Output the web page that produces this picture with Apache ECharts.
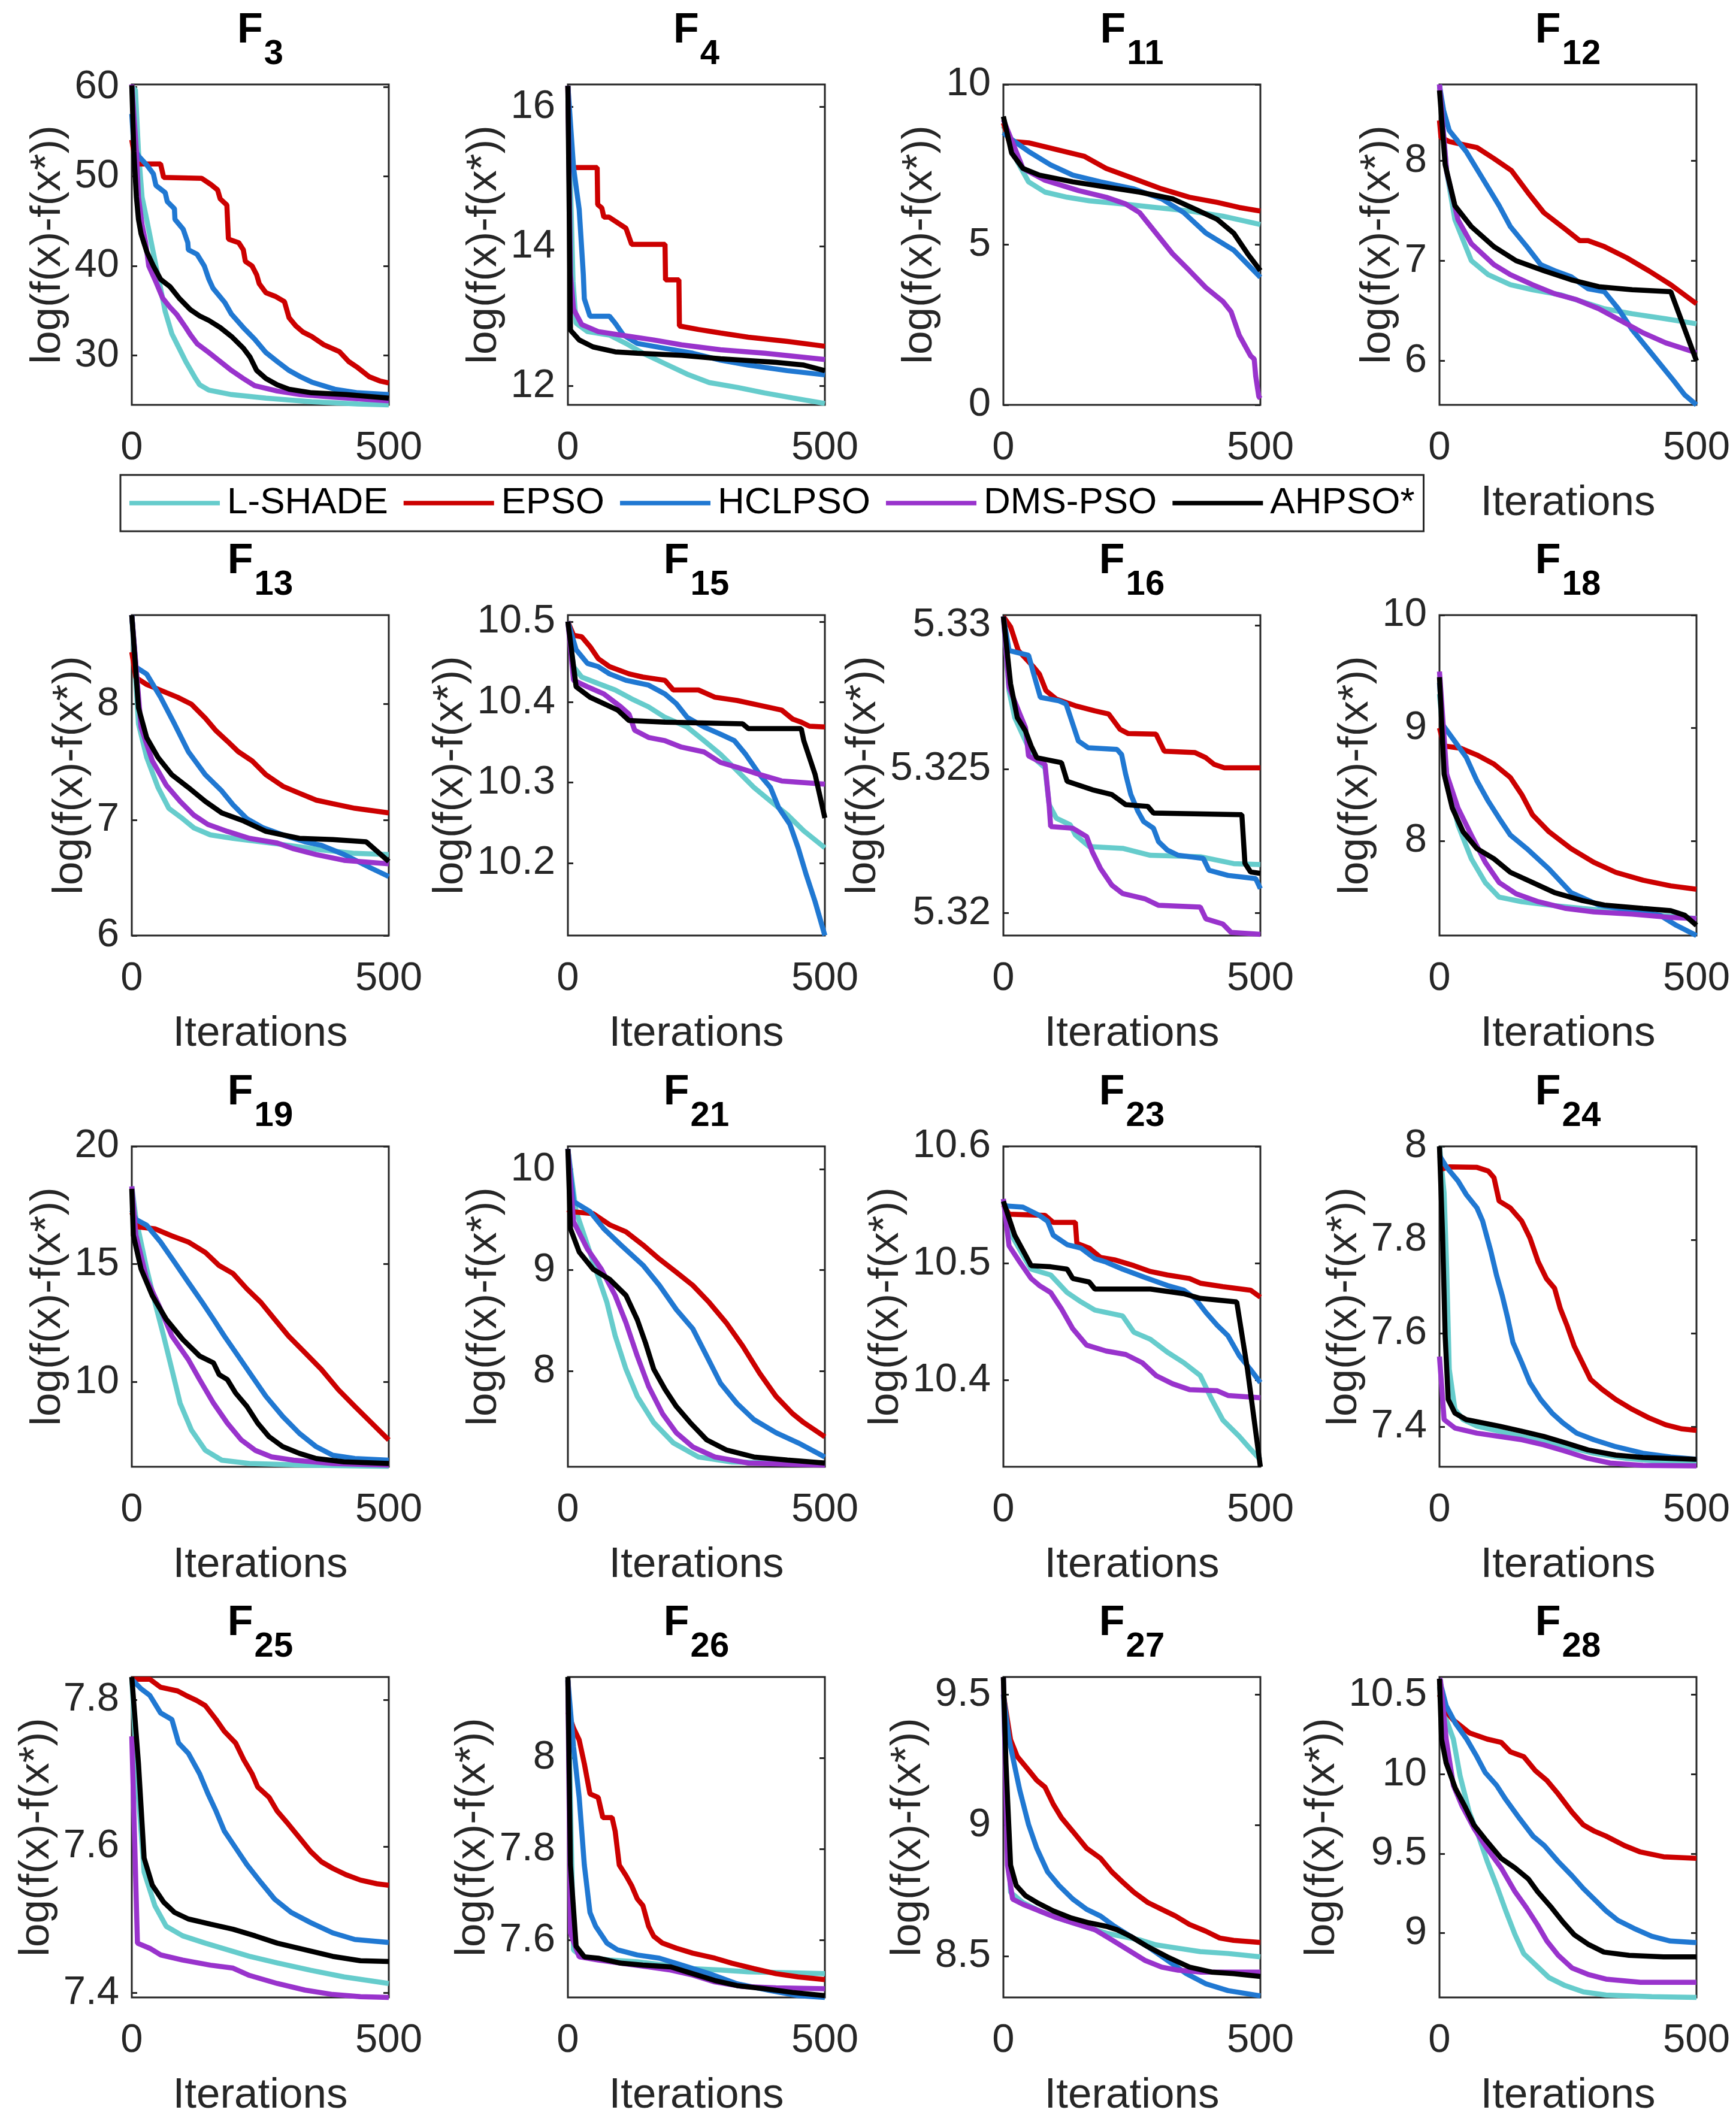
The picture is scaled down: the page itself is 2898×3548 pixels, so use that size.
<!DOCTYPE html>
<html>
<head>
<meta charset="utf-8">
<script src="https://cdn.jsdelivr.net/npm/echarts@6.0.0/dist/echarts.min.js"></script>
<style>html,body{margin:0;padding:0;background:#fff;}#c{width:2898px;height:3548px;}</style>
</head>
<body>
<div id="c"></div>
<script>
const NAMES = ['L-SHADE', 'EPSO', 'HCLPSO', 'DMS-PSO', 'AHPSO*'];
const COLORS = ['#66CCCC', '#CC0000', '#2078D2', '#9933CC', '#000000'];
const FUNCS = ['3', '4', '11', '12', '13', '15', '16', '18', '19', '21', '23', '24', '25', '26', '27', '28'];
const Y_MIN = [24.45, 11.73, 0, 5.56, 6, 10.11, 5.31921, 7.16, 6.4, 7.053, 10.326, 7.314, 7.394, 7.475, 8.342, 8.595];
const Y_MAX = [60.3, 16.32, 10, 8.76, 8.77, 10.508, 5.33035, 10, 20, 10.226, 10.6, 8.0, 7.831, 8.177, 9.567, 10.611];
const Y_TICKS = [
  [30, 40, 50, 60], [12, 14, 16], [0, 5, 10], [6, 7, 8],
  [6, 7, 8], [10.2, 10.3, 10.4, 10.5], [5.32, 5.325, 5.33], [8, 9, 10],
  [10, 15, 20], [8, 9, 10], [10.4, 10.5, 10.6], [7.4, 7.6, 7.8, 8],
  [7.4, 7.6, 7.8], [7.6, 7.8, 8], [8.5, 9, 9.5], [9, 9.5, 10, 10.5]
];
const X_TICKS = [0, 500];

// each function: [L-SHADE, EPSO, HCLPSO, DMS-PSO, AHPSO*], points are [iteration, value]
const F3 = [
  [[0,60],[7,59.7],[13,52.8],[20,47.7],[29,45.2],[38,42.6],[47,40],[56,37.5],[65,34.9],[78,32.4],[92,30.8],[105,29.3],[123,27.5],[132,26.7],[150,26.1],[194,25.6],[261,25.2],[350,24.8],[440,24.55],[500,24.45]],
  [[0,54.1],[8,51.4],[56,51.4],[62,49.9],[136,49.8],[154,49.1],[167,48.5],[172,47.5],[185,46.8],[188,43],[208,42.6],[217,41.8],[221,40.5],[234,40],[243,39],[248,38],[261,37],[279,36.6],[297,36],[306,34.2],[319,33.3],[333,32.6],[350,32.1],[373,31.2],[404,30.4],[422,29.3],[440,28.6],[462,27.6],[484,27.1],[500,26.9]],
  [[0,57],[4,53.3],[13,52.3],[29,51.3],[42,50.3],[47,49],[65,48.2],[69,47.2],[83,46.4],[84,45.2],[100,44.1],[109,42.6],[110,41.8],[127,41.3],[141,40],[150,38.5],[158,37.5],[181,35.9],[194,34.6],[217,33.1],[239,31.8],[261,30.3],[283,29.3],[306,28.3],[328,27.6],[350,27],[395,26.2],[440,25.8],[500,25.6]],
  [[0,60.3],[9,52.8],[13,47.7],[20,44.6],[27,42.6],[33,40],[47,38.2],[60,36.4],[74,35.4],[87,34.6],[105,33.1],[114,32.3],[127,31.3],[150,30.3],[172,29.3],[194,28.3],[217,27.4],[239,26.6],[283,26],[328,25.6],[395,25.3],[500,24.9]],
  [[0,60.2],[4,52.8],[9,47.7],[13,45.2],[18,43.6],[29,41.6],[42,40],[56,38.5],[74,37.7],[92,36.4],[114,35.1],[132,34.4],[150,33.9],[172,33.1],[194,32.1],[217,30.8],[230,29.8],[243,28.3],[261,27.4],[283,26.7],[306,26.2],[350,25.8],[417,25.6],[500,25.2]]
];
const F4 = [
  [[0,16.3],[10,13.5],[16,12.9],[38,12.78],[81,12.73],[113,12.61],[146,12.47],[189,12.32],[232,12.17],[275,12.05],[330,11.98],[383,11.9],[437,11.83],[500,11.75]],
  [[0,16.3],[3,15.13],[57,15.13],[58,14.6],[66,14.55],[70,14.42],[80,14.42],[113,14.26],[124,14.03],[189,14.03],[190,13.52],[216,13.52],[217,12.86],[254,12.81],[297,12.76],[351,12.7],[427,12.64],[500,12.57]],
  [[0,16.3],[11,15.13],[17,14.8],[22,14.53],[30,13.6],[32,13.25],[43,13.0],[81,13.0],[92,12.9],[108,12.73],[135,12.61],[189,12.54],[243,12.47],[297,12.37],[351,12.3],[427,12.22],[500,12.16]],
  [[0,16.3],[5,13.6],[11,13.1],[27,12.88],[59,12.78],[103,12.73],[167,12.66],[221,12.59],[297,12.52],[383,12.47],[500,12.38]],
  [[0,16.3],[5,12.8],[22,12.66],[49,12.56],[92,12.49],[135,12.47],[221,12.44],[297,12.39],[405,12.34],[459,12.3],[500,12.22]]
];
const F11 = [
  [[0,8.7],[27,7.6],[49,6.96],[81,6.64],[124,6.48],[167,6.37],[232,6.27],[297,6.16],[362,6.05],[427,5.89],[500,5.63]],
  [[0,8.8],[11,8.23],[49,8.18],[103,7.97],[157,7.76],[200,7.38],[254,7.06],[308,6.74],[362,6.48],[416,6.32],[459,6.16],[500,6.05]],
  [[0,8.5],[11,8.34],[49,7.91],[92,7.49],[135,7.17],[189,6.96],[254,6.74],[308,6.43],[351,6.0],[394,5.36],[448,4.83],[500,3.98]],
  [[0,8.9],[38,7.38],[81,7.01],[146,6.69],[200,6.48],[238,6.27],[265,6.0],[297,5.36],[329,4.72],[362,4.19],[394,3.66],[427,3.23],[443,2.91],[459,2.17],[481,1.53],[488,1.43],[491,0.89],[497,0.26],[500,0.2]],
  [[0,9.0],[16,7.86],[38,7.38],[70,7.17],[135,6.96],[200,6.8],[265,6.64],[329,6.43],[373,6.11],[416,5.79],[448,5.36],[475,4.72],[500,4.19]]
];
const F12 = [
  [[0,8.76],[14,7.89],[30,7.41],[62,7.0],[95,6.86],[138,6.76],[181,6.71],[235,6.66],[278,6.59],[321,6.52],[375,6.47],[440,6.42],[500,6.37]],
  [[0,8.4],[3,8.23],[19,8.19],[73,8.13],[106,8.02],[140,7.9],[172,7.68],[203,7.48],[246,7.31],[273,7.2],[289,7.2],[321,7.14],[364,7.03],[407,6.9],[450,6.76],[500,6.57]],
  [[0,8.75],[8,8.5],[19,8.3],[52,8.09],[84,7.82],[116,7.55],[138,7.34],[170,7.14],[197,6.96],[224,6.9],[256,6.84],[289,6.72],[321,6.69],[348,6.52],[375,6.31],[402,6.14],[429,5.97],[456,5.8],[477,5.66],[500,5.56]],
  [[0,8.76],[14,7.89],[36,7.41],[62,7.17],[106,6.96],[138,6.86],[181,6.76],[224,6.67],[267,6.61],[310,6.52],[353,6.4],[396,6.28],[440,6.18],[500,6.08]],
  [[0,8.7],[11,7.96],[30,7.55],[62,7.34],[106,7.14],[149,7.0],[203,6.9],[256,6.81],[310,6.74],[375,6.71],[450,6.69],[500,6.0]]
];
const F13 = [
  [[0,8.77],[13,7.83],[29,7.54],[51,7.28],[72,7.1],[99,7.01],[121,6.93],[153,6.87],[197,6.84],[251,6.81],[305,6.78],[369,6.74],[434,6.71],[500,6.7]],
  [[0,8.45],[8,8.23],[29,8.17],[67,8.1],[89,8.06],[116,8.0],[143,7.88],[164,7.77],[186,7.68],[207,7.59],[234,7.51],[261,7.39],[294,7.29],[326,7.23],[359,7.17],[391,7.14],[434,7.1],[500,7.06]],
  [[0,8.77],[8,8.32],[29,8.26],[56,8.06],[83,7.83],[110,7.59],[143,7.39],[175,7.25],[197,7.13],[224,7.01],[256,6.93],[294,6.87],[337,6.81],[369,6.78],[413,6.7],[467,6.58],[500,6.51]],
  [[0,8.77],[18,7.8],[40,7.51],[67,7.3],[94,7.16],[121,7.04],[148,6.96],[186,6.9],[229,6.84],[283,6.8],[315,6.75],[359,6.7],[413,6.65],[500,6.62]],
  [[0,8.77],[13,7.97],[29,7.71],[51,7.54],[78,7.39],[110,7.28],[143,7.16],[175,7.06],[218,6.99],[261,6.9],[294,6.87],[326,6.84],[391,6.83],[456,6.81],[500,6.64]]
];
const F15 = [
  [[0,10.5],[11,10.444],[27,10.431],[59,10.423],[92,10.415],[124,10.404],[157,10.394],[189,10.381],[232,10.369],[265,10.352],[297,10.335],[329,10.315],[362,10.294],[394,10.277],[427,10.26],[459,10.24],[500,10.219]],
  [[0,10.5],[11,10.483],[27,10.481],[43,10.469],[59,10.454],[81,10.444],[119,10.435],[146,10.431],[189,10.427],[205,10.415],[254,10.415],[286,10.406],[329,10.402],[373,10.396],[416,10.39],[437,10.379],[454,10.375],[470,10.37],[500,10.369]],
  [[0,10.5],[16,10.465],[38,10.448],[59,10.444],[81,10.435],[113,10.427],[157,10.421],[189,10.41],[211,10.398],[232,10.381],[265,10.369],[297,10.36],[324,10.352],[346,10.335],[373,10.31],[394,10.294],[410,10.269],[432,10.248],[448,10.219],[464,10.185],[481,10.152],[500,10.11]],
  [[0,10.5],[11,10.427],[38,10.419],[70,10.41],[103,10.394],[119,10.385],[130,10.365],[157,10.356],[189,10.352],[221,10.344],[265,10.338],[297,10.325],[329,10.319],[373,10.31],[416,10.302],[500,10.298]],
  [[0,10.5],[16,10.419],[43,10.406],[70,10.398],[97,10.39],[119,10.377],[189,10.375],[340,10.373],[351,10.367],[454,10.367],[459,10.352],[470,10.331],[481,10.31],[500,10.256]]
];
const F16 = [
  [[0,5.3303],[11,5.32772],[22,5.32679],[43,5.32597],[59,5.32539],[81,5.32504],[89,5.32376],[103,5.32329],[130,5.32306],[140,5.32271],[167,5.3223],[232,5.32224],[286,5.322],[383,5.32195],[448,5.32171],[500,5.32168]],
  [[0,5.3303],[14,5.32994],[29,5.32912],[59,5.32854],[70,5.3283],[83,5.32772],[103,5.32743],[140,5.3272],[178,5.32702],[205,5.32691],[227,5.32638],[243,5.32623],[297,5.32621],[313,5.32562],[373,5.32557],[394,5.32539],[410,5.32516],[430,5.32504],[500,5.32504]],
  [[0,5.3303],[11,5.32912],[49,5.32895],[59,5.3283],[72,5.32749],[108,5.32737],[122,5.32726],[133,5.32667],[146,5.32597],[165,5.32574],[221,5.32568],[230,5.3255],[238,5.32481],[248,5.32411],[262,5.32352],[273,5.32317],[292,5.32294],[302,5.32247],[319,5.32218],[340,5.322],[389,5.32189],[400,5.32148],[437,5.3213],[491,5.32119],[500,5.32084]],
  [[0,5.3303],[11,5.32784],[32,5.32691],[43,5.32644],[49,5.32545],[81,5.32516],[89,5.32376],[92,5.323],[135,5.32294],[162,5.32265],[173,5.32212],[189,5.32154],[211,5.32096],[232,5.32067],[275,5.32049],[302,5.32026],[383,5.3202],[394,5.31979],[427,5.31961],[443,5.31932],[500,5.31925]],
  [[0,5.3303],[14,5.32796],[27,5.32679],[43,5.32632],[54,5.3258],[65,5.32539],[113,5.32522],[124,5.32457],[173,5.32428],[211,5.32411],[238,5.32376],[281,5.3237],[292,5.32347],[464,5.32341],[470,5.32172],[481,5.32142],[500,5.32137]]
];
const F18 = [
  [[0,9.3],[14,8.59],[36,8.14],[62,7.84],[89,7.63],[116,7.5],[160,7.46],[213,7.43],[278,7.4],[353,7.37],[429,7.34],[500,7.31]],
  [[0,9.0],[9,8.84],[41,8.82],[73,8.76],[106,8.68],[138,8.56],[160,8.41],[181,8.23],[213,8.08],[256,7.93],[300,7.81],[343,7.72],[396,7.65],[450,7.6],[500,7.57]],
  [[0,9.4],[6,9.03],[30,8.88],[52,8.74],[73,8.53],[95,8.35],[116,8.2],[138,8.05],[170,7.93],[213,7.75],[256,7.54],[310,7.43],[375,7.38],[429,7.34],[461,7.25],[500,7.16]],
  [[0,9.5],[14,8.59],[36,8.29],[62,8.05],[89,7.81],[116,7.63],[149,7.53],[192,7.46],[246,7.4],[300,7.37],[375,7.35],[450,7.32],[500,7.31]],
  [[0,9.45],[9,8.59],[25,8.29],[46,8.08],[73,7.93],[106,7.84],[138,7.72],[181,7.63],[224,7.54],[278,7.47],[321,7.43],[396,7.4],[450,7.38],[477,7.34],[500,7.25]]
];
const F19 = [
  [[0,18.3],[8,16.94],[29,14.8],[45,13.38],[62,11.95],[78,10.53],[94,9.1],[116,7.96],[143,7.1],[175,6.68],[229,6.54],[337,6.47],[500,6.42]],
  [[0,17.2],[13,16.58],[45,16.5],[78,16.2],[110,15.94],[143,15.5],[170,14.94],[197,14.6],[224,13.95],[251,13.38],[278,12.66],[305,11.95],[337,11.24],[369,10.53],[402,9.67],[434,8.96],[467,8.25],[500,7.54]],
  [[0,17.3],[8,16.9],[29,16.65],[56,15.94],[83,15.09],[110,14.23],[137,13.38],[159,12.66],[180,11.95],[207,11.1],[234,10.24],[261,9.39],[294,8.53],[326,7.82],[359,7.25],[391,6.89],[434,6.75],[500,6.68]],
  [[0,18.3],[8,16.23],[29,14.37],[56,13.09],[78,11.95],[110,10.95],[132,10.1],[159,9.1],[186,8.25],[213,7.54],[240,7.1],[272,6.82],[315,6.68],[391,6.54],[500,6.47]],
  [[0,18.2],[3,16.23],[18,14.8],[40,13.66],[67,12.66],[99,11.81],[132,11.1],[159,10.81],[170,10.31],[186,10.1],[202,9.53],[224,8.96],[245,8.25],[267,7.68],[294,7.25],[326,6.97],[359,6.75],[413,6.61],[500,6.54]]
];
const F21 = [
  [[0,10.2],[16,9.58],[54,9.01],[76,8.68],[92,8.35],[113,8.02],[135,7.75],[167,7.49],[205,7.29],[254,7.15],[319,7.1],[500,7.08]],
  [[0,9.6],[5,9.58],[49,9.56],[81,9.45],[113,9.38],[146,9.25],[178,9.11],[211,8.98],[243,8.85],[275,8.68],[308,8.48],[340,8.25],[373,7.98],[405,7.75],[437,7.58],[459,7.49],[500,7.35]],
  [[0,10.2],[11,9.68],[43,9.58],[70,9.41],[103,9.25],[146,9.05],[178,8.85],[211,8.61],[243,8.42],[270,8.15],[297,7.88],[329,7.68],[362,7.52],[405,7.39],[448,7.29],[500,7.15]],
  [[0,10.2],[11,9.48],[38,9.21],[65,9.01],[92,8.75],[113,8.48],[135,8.15],[157,7.85],[184,7.58],[211,7.39],[243,7.25],[286,7.15],[351,7.09],[500,7.07]],
  [[0,10.2],[5,9.41],[22,9.18],[49,9.01],[81,8.91],[113,8.75],[135,8.51],[151,8.28],[167,8.02],[189,7.82],[211,7.65],[238,7.49],[270,7.32],[308,7.22],[362,7.15],[427,7.12],[500,7.09]]
];
const F23 = [
  [[0,10.553],[16,10.524],[38,10.507],[54,10.495],[92,10.49],[124,10.475],[151,10.467],[178,10.46],[232,10.455],[254,10.441],[286,10.435],[319,10.424],[351,10.415],[383,10.404],[405,10.384],[427,10.366],[459,10.352],[481,10.341],[500,10.332]],
  [[0,10.55],[11,10.542],[81,10.541],[97,10.535],[140,10.535],[143,10.517],[167,10.513],[189,10.505],[216,10.503],[254,10.498],[286,10.493],[319,10.49],[362,10.487],[383,10.483],[427,10.48],[481,10.477],[500,10.471]],
  [[0,10.552],[5,10.549],[38,10.548],[70,10.541],[86,10.536],[97,10.524],[124,10.516],[151,10.513],[178,10.504],[200,10.501],[232,10.495],[275,10.488],[319,10.481],[351,10.477],[373,10.47],[394,10.458],[416,10.447],[437,10.438],[459,10.421],[481,10.409],[500,10.398]],
  [[0,10.555],[11,10.515],[32,10.501],[54,10.487],[70,10.481],[92,10.475],[113,10.461],[135,10.444],[162,10.43],[200,10.425],[238,10.422],[270,10.415],[297,10.404],[329,10.397],[362,10.392],[416,10.391],[437,10.387],[500,10.385]],
  [[0,10.553],[22,10.524],[43,10.507],[54,10.498],[92,10.497],[124,10.495],[135,10.487],[167,10.484],[178,10.478],[286,10.478],[351,10.474],[383,10.47],[454,10.467],[475,10.409],[500,10.326]]
];
const F24 = [
  [[0,8.0],[9,7.9],[14,7.739],[19,7.523],[30,7.437],[46,7.415],[73,7.401],[116,7.39],[160,7.379],[203,7.368],[246,7.357],[300,7.343],[364,7.332],[437,7.325],[500,7.322]],
  [[0,7.95],[19,7.956],[73,7.955],[95,7.947],[106,7.933],[116,7.883],[138,7.868],[160,7.84],[176,7.804],[192,7.753],[208,7.717],[224,7.696],[235,7.653],[248,7.617],[262,7.573],[278,7.537],[294,7.501],[316,7.48],[343,7.458],[375,7.437],[407,7.419],[440,7.404],[472,7.395],[500,7.392]],
  [[0,7.98],[14,7.955],[36,7.926],[52,7.897],[73,7.868],[84,7.84],[100,7.775],[111,7.724],[122,7.681],[133,7.631],[143,7.58],[160,7.537],[176,7.494],[197,7.458],[219,7.429],[240,7.408],[267,7.386],[300,7.372],[343,7.357],[396,7.343],[450,7.335],[500,7.33]],
  [[0,7.55],[9,7.415],[30,7.397],[73,7.386],[116,7.379],[160,7.372],[203,7.361],[246,7.347],[289,7.332],[332,7.322],[396,7.317],[500,7.316]],
  [[0,8.0],[6,7.811],[11,7.595],[17,7.458],[30,7.429],[52,7.415],[84,7.408],[116,7.401],[160,7.39],[203,7.379],[246,7.365],[289,7.35],[343,7.339],[396,7.334],[500,7.33]]
];
const F25 = [
  [[0,7.83],[13,7.667],[24,7.565],[45,7.519],[67,7.491],[99,7.478],[143,7.468],[186,7.459],[229,7.45],[283,7.441],[348,7.431],[413,7.422],[500,7.413]],
  [[0,7.828],[35,7.828],[56,7.817],[89,7.812],[105,7.806],[126,7.799],[143,7.792],[164,7.773],[180,7.757],[202,7.741],[218,7.718],[234,7.699],[245,7.681],[267,7.667],[283,7.648],[305,7.63],[326,7.612],[348,7.593],[369,7.579],[391,7.57],[418,7.561],[445,7.554],[477,7.549],[500,7.547]],
  [[0,7.828],[18,7.815],[35,7.806],[56,7.782],[78,7.773],[91,7.741],[110,7.727],[132,7.699],[148,7.672],[164,7.648],[180,7.621],[202,7.598],[224,7.575],[251,7.551],[278,7.528],[310,7.51],[348,7.496],[391,7.482],[434,7.473],[500,7.469]],
  [[0,7.75],[11,7.468],[35,7.461],[56,7.452],[99,7.445],[153,7.438],[197,7.434],[229,7.424],[283,7.413],[337,7.404],[391,7.398],[445,7.395],[500,7.394]],
  [[0,7.831],[13,7.713],[24,7.584],[40,7.547],[62,7.524],[83,7.51],[110,7.501],[153,7.494],[197,7.487],[240,7.478],[283,7.468],[337,7.459],[391,7.45],[445,7.444],[500,7.443]]
];
const F26 = [
  [[0,8.17],[11,7.579],[27,7.564],[81,7.557],[135,7.553],[189,7.546],[243,7.538],[297,7.535],[351,7.531],[427,7.529],[500,7.527]],
  [[0,8.1],[11,8.065],[22,8.039],[32,7.987],[43,7.921],[59,7.913],[68,7.869],[86,7.869],[92,7.839],[100,7.765],[113,7.742],[124,7.72],[135,7.691],[146,7.676],[157,7.631],[167,7.609],[184,7.594],[211,7.583],[243,7.572],[286,7.561],[319,7.55],[362,7.538],[405,7.527],[448,7.52],[500,7.514]],
  [[0,8.17],[11,8.024],[22,7.913],[32,7.765],[43,7.661],[54,7.631],[76,7.594],[97,7.579],[135,7.568],[178,7.561],[221,7.546],[275,7.527],[329,7.505],[394,7.49],[448,7.479],[500,7.475]],
  [[0,8.17],[5,7.616],[22,7.564],[59,7.557],[103,7.55],[157,7.542],[200,7.535],[243,7.524],[286,7.509],[340,7.499],[405,7.496],[500,7.494]],
  [[0,8.177],[5,7.765],[16,7.587],[32,7.564],[59,7.561],[103,7.55],[146,7.546],[200,7.542],[243,7.527],[286,7.512],[329,7.501],[383,7.494],[437,7.486],[500,7.479]]
];
const F27 = [
  [[0,9.5],[8,9.0],[14,8.744],[38,8.705],[70,8.673],[103,8.647],[135,8.627],[167,8.608],[200,8.588],[232,8.575],[265,8.562],[297,8.543],[340,8.53],[383,8.517],[437,8.51],[500,8.497]],
  [[0,9.5],[14,9.327],[27,9.263],[49,9.211],[65,9.172],[81,9.146],[97,9.081],[113,9.029],[135,8.977],[162,8.912],[189,8.874],[211,8.822],[232,8.783],[254,8.744],[281,8.705],[308,8.679],[335,8.653],[362,8.621],[394,8.595],[421,8.569],[448,8.56],[500,8.552]],
  [[0,9.5],[11,9.33],[18,9.263],[32,9.133],[49,9.003],[65,8.912],[86,8.822],[108,8.77],[135,8.718],[162,8.679],[189,8.653],[216,8.614],[248,8.575],[281,8.536],[319,8.484],[356,8.433],[394,8.394],[437,8.368],[500,8.348]],
  [[0,9.567],[8,8.848],[18,8.718],[38,8.698],[70,8.673],[103,8.647],[135,8.627],[178,8.601],[211,8.562],[243,8.523],[275,8.484],[308,8.458],[340,8.446],[383,8.439],[500,8.439]],
  [[0,9.567],[5,9.237],[14,8.848],[25,8.77],[43,8.731],[65,8.705],[97,8.673],[130,8.647],[167,8.627],[200,8.614],[221,8.601],[248,8.575],[281,8.536],[319,8.497],[362,8.458],[405,8.439],[448,8.433],[500,8.422]]
];
const F28 = [
  [[0,10.55],[9,10.38],[27,10.22],[40,9.99],[58,9.76],[76,9.61],[93,9.45],[111,9.3],[129,9.14],[147,8.99],[164,8.87],[187,8.8],[213,8.72],[244,8.67],[280,8.63],[324,8.61],[413,8.6],[500,8.595]],
  [[0,10.5],[9,10.41],[27,10.34],[58,10.26],[93,10.22],[120,10.2],[138,10.14],[164,10.11],[187,10.02],[209,9.96],[231,9.875],[258,9.76],[280,9.68],[302,9.64],[324,9.61],[360,9.55],[391,9.51],[436,9.48],[500,9.47]],
  [[0,10.6],[2,10.57],[13,10.43],[31,10.32],[53,10.22],[71,10.12],[89,10.01],[111,9.93],[129,9.84],[156,9.72],[182,9.61],[204,9.55],[231,9.45],[258,9.36],[280,9.28],[302,9.21],[324,9.14],[347,9.08],[378,9.03],[413,8.98],[449,8.95],[500,8.94]],
  [[0,10.6],[2,10.59],[13,10.22],[27,9.93],[44,9.8],[67,9.66],[93,9.53],[120,9.41],[147,9.26],[169,9.16],[191,9.05],[209,8.95],[231,8.86],[258,8.78],[289,8.74],[324,8.71],[391,8.69],[500,8.69]],
  [[0,10.6],[1,10.6],[4,10.22],[13,10.07],[31,9.91],[49,9.8],[67,9.68],[89,9.59],[120,9.47],[147,9.41],[173,9.34],[191,9.26],[218,9.16],[240,9.07],[262,8.99],[289,8.93],[320,8.88],[369,8.86],[436,8.85],[500,8.85]]
];
const ALL = [F3, F4, F11, F12, F13, F15, F16, F18, F19, F21, F23, F24, F25, F26, F27, F28];

// layout
const FONT = '"Liberation Sans", Arial, sans-serif';
const GL = [220, 948, 1675, 2403];
const GT = [141, 1027, 1914, 2800];
const GW = 429, GH = 535;
const AX = '#262626';

const mctx = document.createElement('canvas').getContext('2d');
function tw(text, font) { mctx.font = font; return mctx.measureText(text).width; }
function fmt(v) { return String(+(+v).toFixed(5)); }

const grids = [], xAxes = [], yAxes = [], series = [], graphics = [];
for (let i = 0; i < 16; i++) {
  const r = Math.floor(i / 4), c = i % 4;
  const left = GL[c], top = GT[r];
  grids.push({left: left, top: top, width: GW, height: GH, show: true, borderColor: AX, borderWidth: 3,
    backgroundColor: 'rgba(0,0,0,0)', containLabel: false, outerBoundsMode: 'none'});
  const showIter = !(r === 0 && c < 3);
  xAxes.push({
    gridIndex: i, type: 'value', min: 0, max: 500,
    axisLine: {show: false}, axisTick: {show: false}, splitLine: {show: false},
    axisLabel: {customValues: X_TICKS, showMinLabel: true, showMaxLabel: true, fontSize: 67, color: AX,
      fontFamily: FONT, margin: 39, formatter: v => fmt(v)},
    name: showIter ? 'Iterations' : '', nameLocation: 'middle', nameGap: 129,
    nameTextStyle: {fontSize: 71, color: AX, fontFamily: FONT}
  });
  const ticks = Y_TICKS[i];
  let maxW = 0;
  ticks.forEach(t => { maxW = Math.max(maxW, tw(fmt(t), '67px ' + FONT)); });
  const tickStyle = {show: true, inside: true, length: 9, customValues: ticks, lineStyle: {color: AX, width: 3}};
  yAxes.push({
    gridIndex: i, type: 'value', position: 'left', min: Y_MIN[i], max: Y_MAX[i],
    axisLine: {show: false}, splitLine: {show: false}, axisTick: tickStyle,
    axisLabel: {customValues: ticks, showMinLabel: true, showMaxLabel: true, fontSize: 67, color: AX,
      fontFamily: FONT, margin: 21, formatter: v => fmt(v)},
    name: 'log(f(x)-f(x*))', nameLocation: 'middle', nameRotate: 90, nameGap: 21 + maxW + 9,
    nameTextStyle: {fontSize: 71, color: AX, fontFamily: FONT}
  });
  yAxes.push({
    gridIndex: i, type: 'value', position: 'right', min: Y_MIN[i], max: Y_MAX[i],
    axisLine: {show: false}, splitLine: {show: false}, axisTick: tickStyle,
    axisLabel: {show: false}
  });
  ALL[i].forEach((d, s) => {
    series.push({
      type: 'line', name: NAMES[s], xAxisIndex: i, yAxisIndex: 2 * i, data: d,
      symbol: 'none', showSymbol: false, clip: false, silent: true, animation: false,
      lineStyle: {width: 8.5, color: COLORS[s]}, itemStyle: {color: COLORS[s]}
    });
  });
  // title F with subscript
  const fF = 'bold 70px ' + FONT, fS = 'bold 58px ' + FONT;
  const wF = tw('F', fF), wS = tw(FUNCS[i], fS);
  const cx = left + GW / 2;
  const x0 = cx - (wF + 2 + wS) / 2;
  graphics.push({type: 'text', x: x0, y: top - 89.5, silent: true,
    style: {text: 'F', font: fF, fill: '#000', align: 'left', verticalAlign: 'middle', textAlign: 'left', textVerticalAlign: 'middle'}});
  graphics.push({type: 'text', x: x0 + wF + 2, y: top - 50.5, silent: true,
    style: {text: FUNCS[i], font: fS, fill: '#000', align: 'left', verticalAlign: 'middle', textAlign: 'left', textVerticalAlign: 'middle'}});
}

const chart = echarts.init(document.getElementById('c'), null, {renderer: 'canvas', width: 2898, height: 3548});
chart.setOption({
  backgroundColor: '#ffffff',
  animation: false,
  grid: grids, xAxis: xAxes, yAxis: yAxes, series: series, graphic: graphics,
  legend: {
    data: NAMES, left: 201, top: 793, orient: 'horizontal',
    padding: [16, 15, 16, 15], borderColor: AX, borderWidth: 3, backgroundColor: '#fff',
    icon: 'rect', itemWidth: 151, itemHeight: 7.5, itemGap: 26,
    textStyle: {fontSize: 62, color: '#000', fontFamily: FONT, padding: [0, 0, 0, 7]},
    selectedMode: false
  }
});
</script>
</body>
</html>
